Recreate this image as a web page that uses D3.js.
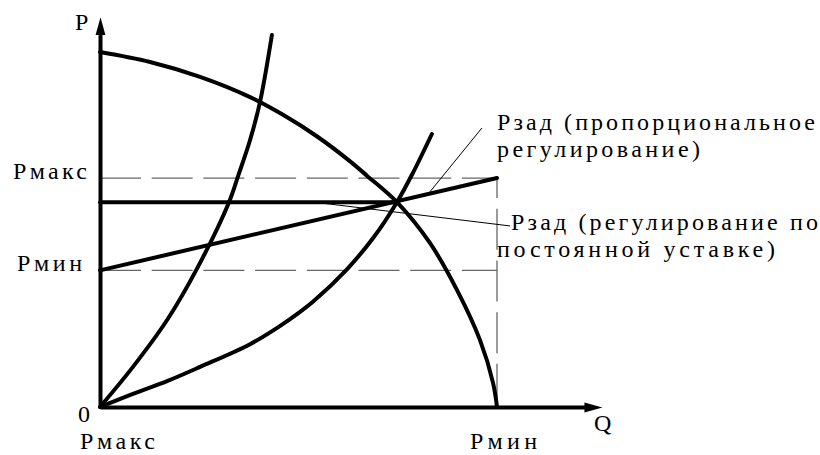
<!DOCTYPE html>
<html>
<head>
<meta charset="utf-8">
<script src="https://cdn.jsdelivr.net/npm/d3@7"></script>
<style>
  html, body { margin: 0; padding: 0; background: #fff; }
</style>
</head>
<body>
<div id="chart"></div>
<script>
// pump curve (P over Q), Q in % of max flow
var qPump = [0, 12.6, 25.2, 37.8, 46.1, 54.7, 63.0, 67.3, 74.8, 83.1, 89.9, 95.7, 99.0, 100];
var pPump = [100, 97.2, 93.0, 87.3, 82.3, 76.2, 69.2, 65.1, 57.7, 46.2, 33.0, 18.9, 6.8, 0];

// steep system curve
var qSysSteep = [0, 8.3, 16.9, 24.4, 32.5, 34.8, 37.8, 40.3, 43.3];
var pSysSteep = [0, 11.3, 24.5, 38.9, 57.7, 65.1, 75.2, 85.9, 104.8];

// flat system curve
var qSysFlat = [0, 8.3, 16.9, 25.2, 37.8, 45.3, 50.4, 53.7, 62.2, 68.8, 74.8, 78.8, 83.6];
var pSysFlat = [0, 3.7, 7.3, 11.3, 17.7, 22.8, 26.8, 29.7, 38.8, 47.6, 57.7, 65.9, 76.9];

// setpoints
var pMax = 64.5, pMin = 38.5, pConst = 57.7, qDuty = 74.8, qMax = 100;

// leader lines of the two notes
var qLead1 = [83.1, 96.2], pLead1 = [60.6, 78.6];
var qLead2 = [55.4, 103.3], pLead2 = [57.5, 51.0];

var notes = [
  ["Рзад (пропорциональное", "регулирование)"],
  ["Рзад (регулирование по", "постоянной уставке)"]
];

var width = 820, height = 455;

var x = d3.scaleLinear().domain([0, 100]).range([100, 497]);
var y = d3.scaleLinear().domain([0, 100]).range([407, 52]);

var svg = d3.select("#chart").append("svg")
  .attr("width", width)
  .attr("height", height)
  .attr("font-family", "'Liberation Serif', 'Times New Roman', serif");

svg.append("defs").append("marker")
  .attr("id", "arrow")
  .attr("viewBox", "0 -6 20 12")
  .attr("markerUnits", "userSpaceOnUse")
  .attr("markerWidth", 20)
  .attr("markerHeight", 12)
  .attr("refX", 2)
  .attr("refY", 0)
  .attr("orient", "auto")
  .append("path")
  .attr("d", "M0,-5L18,0L0,5Z")
  .attr("fill", "#000");

function pts(qs, ps) {
  return qs.map(function(q, i) { return [q, ps[i]]; });
}

var line = d3.line()
  .x(d => x(d[0]))
  .y(d => y(d[1]));

var curve = d3.line()
  .x(d => x(d[0]))
  .y(d => y(d[1]))
  .curve(d3.curveCatmullRom.alpha(0.5));

// dashed guides
var guides = svg.append("g")
  .attr("fill", "none")
  .attr("stroke", "#666")
  .attr("stroke-width", 1.3)
  .attr("stroke-dasharray", "41,10.7");

guides.append("path").attr("d", line([[0, pMax], [qMax, pMax]]));
guides.append("path").attr("d", line([[0, pMin], [qMax, pMin]]));
guides.append("path").attr("d", line([[qMax, pMax], [qMax, 0]]))
  .attr("stroke-dashoffset", 21);

// thin leaders
svg.append("path")
  .attr("d", line(pts(qLead1, pLead1)))
  .attr("fill", "none").attr("stroke", "#000").attr("stroke-width", 1);
svg.append("path")
  .attr("d", line(pts(qLead2, pLead2)))
  .attr("fill", "none").attr("stroke", "#000").attr("stroke-width", 1);

// thick marks
var thick = svg.append("g")
  .attr("fill", "none")
  .attr("stroke", "#000")
  .attr("stroke-width", 4)
  .attr("stroke-linecap", "round");

thick.append("path").attr("d", curve(pts(qPump, pPump)));
thick.append("path").attr("d", curve(pts(qSysSteep, pSysSteep)));
thick.append("path").attr("d", curve(pts(qSysFlat, pSysFlat)));
thick.append("path").attr("d", line([[0, pConst], [qDuty, pConst]]));
thick.append("path").attr("d", line([[0, pMin], [qMax, pMax]]));

// axes
var xAxisScale = x.copy().domain([0, 122.4]).range([x(0), x(122.4)]);
var yAxisScale = y.copy().domain([0, 105.4]).range([y(0), y(105.4)]);

var gx = svg.append("g")
  .attr("transform", "translate(0," + y(0) + ")")
  .call(d3.axisBottom(xAxisScale).tickValues([]).tickSizeOuter(0));
var gy = svg.append("g")
  .attr("transform", "translate(" + x(0) + ",0)")
  .call(d3.axisLeft(yAxisScale).tickValues([]).tickSizeOuter(0));

[gx, gy].forEach(function(g) {
  g.select(".domain")
    .attr("stroke", "#000")
    .attr("stroke-width", 4)
    .attr("marker-end", "url(#arrow)");
});

// labels
function label(txt, px, py, len) {
  var t = svg.append("text")
    .attr("x", px)
    .attr("y", py)
    .attr("font-size", 24)
    .attr("fill", "#000")
    .text(txt);
  if (len) t.attr("textLength", len).attr("lengthAdjust", "spacing");
  return t;
}

label("P", 75, 30);
label("Q", 594, 431);
label("0", 78, 422);
label("Рмакс", 13, y(pMax) + 1, 74);
label("Рмин", 17, y(pMin) + 1, 65);
label("Рмакс", 80, 449, 75);
label("Рмин", 470, 449, 67);

label(notes[0][0], 497, 130, 318);
label(notes[0][1], 497, 157, 203);
label(notes[1][0], 511, 230, 307);
label(notes[1][1], 497, 257, 278);
</script>
</body>
</html>
